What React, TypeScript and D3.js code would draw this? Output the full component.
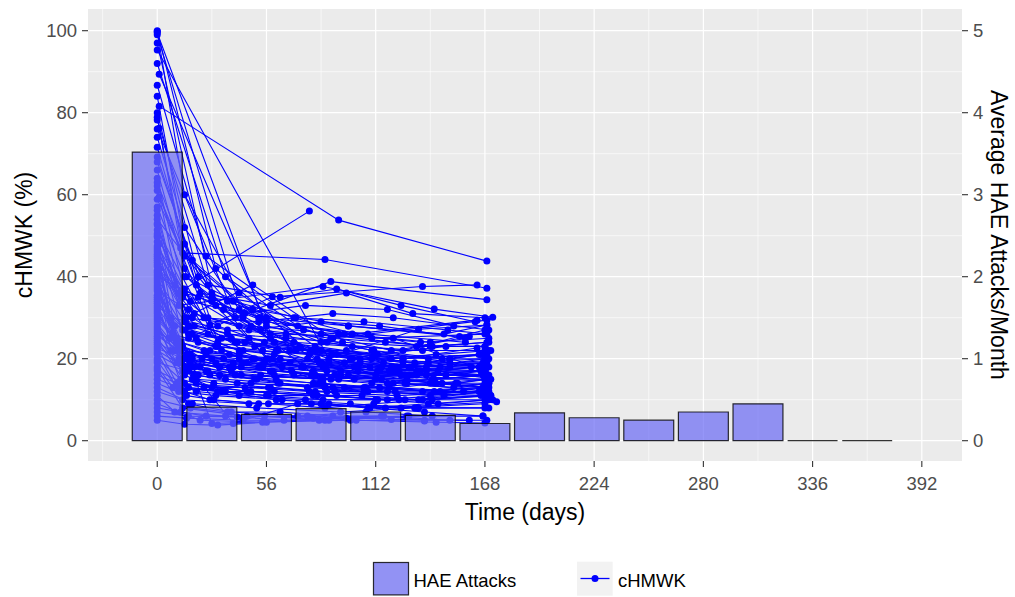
import React from "react";
import * as d3 from "d3";

const barDays = [0, 28, 56, 84, 112, 140, 168, 196, 224, 252, 280, 308, 336, 364];
const barValues = [3.52, 0.41, 0.32, 0.39, 0.35, 0.31, 0.21, 0.34, 0.28, 0.25, 0.35, 0.45, 0, 0];

const xTicks = [0, 56, 112, 168, 224, 280, 336, 392];
const xMinor = [-28, 28, 84, 140, 196, 252, 308, 364];
const yTicks = [0, 20, 40, 60, 80, 100];
const yMinor = [10, 30, 50, 70, 90];
const y2Ticks = [0, 1, 2, 3, 4, 5];

// cHMWK (%) per patient: [day, value]
const patients: [number, number][][] = [
  [[0, 100], [30, 42], [86, 18], [140, 14], [169, 13]],
  [[0, 99.5], [58, 25], [112, 16], [168, 15]],
  [[0, 99], [44, 30], [91, 12], [171, 11]],
  [[0, 95.3], [88, 20], [133, 17], [168, 19]],
  [[1, 89.4], [62, 22], [118, 14], [168, 16]],
  [[0, 50], [14, 37], [78, 56]],
  [[1, 81.6], [93, 53.8], [169, 43.8]],
  [[0, 78.9], [15, 40], [57, 20], [113, 17], [168, 21.3]],
  [[0, 78.2], [28, 35], [84, 19], [141, 15], [170, 16]],
  [[1, 76.2], [14, 45], [56, 28], [110, 22], [165, 18]],
  [[0, 71.6], [20, 38], [60, 24], [100, 20], [160, 25.4]],
  [[0, 69.2], [31, 24], [85, 14], [142, 12], [170, 12]],
  [[0, 62.1], [14, 30], [49, 38], [90, 25], [169, 29.4]],
  [[1, 59.5], [27, 28.2], [59, 35.1], [136, 37.6], [164, 38]],
  [[0, 58.9], [13, 45.8], [86, 44.2], [169, 37.2]],
  [[0, 56.2], [16, 25], [45, 31.1], [89, 38.8], [169, 34.4]],
  [[0, 52.6], [11, 33], [85, 37.6], [142, 32.1], [172, 30.1]],
  [[0, 51.4], [33, 22], [74, 18], [134, 27.2], [169, 28.2]],
  [[0, 49.7], [12, 20], [63, 14], [108, 12], [168, 11.6]],
  [[1, 48], [17, 18], [28, 4.2], [83, 5]],
  [[0, 47], [9, 22], [39, 4.2], [72, 9], [117, 8], [174, 9.5]],
  [[0, 46], [26, 26], [61, 22], [104, 20], [150, 19], [169, 19.5]],
  [[0, 45], [19, 28], [47, 25], [81, 23], [126, 20], [164, 22.6]],
  [[0, 44], [7, 30], [36, 27], [66, 26], [121, 25], [168, 17.2]],
  [[0, 43], [10, 24], [23, 20], [52, 18], [79, 16], [115, 15], [146, 14], [168, 13.6]],
  [[1, 42], [18, 30], [44, 22], [92, 21], [130, 18], [170, 15.2]],
  [[0, 41], [14, 16], [33, 12], [61, 10], [88, 9], [109, 8], [137, 7], [167, 6]],
  [[0, 40], [21, 35], [53, 30], [98, 28], [155, 25.4]],
  [[0, 39], [8, 26], [42, 21], [69, 17], [101, 15], [128, 14], [169, 12]],
  [[0, 38], [15, 20], [37, 18], [60, 16], [93, 15], [122, 17], [166, 18]],
  [[0, 37], [12, 19], [25, 17], [50, 15], [77, 13], [106, 12], [143, 14], [170, 13]],
  [[1, 36], [16, 32], [31, 28], [55, 24], [90, 21], [120, 20], [165, 21]],
  [[0, 35], [20, 14], [46, 12], [82, 11], [124, 10], [168, 10]],
  [[0, 34], [6, 25], [24, 22], [49, 20], [75, 18], [103, 17], [133, 16], [161, 18]],
  [[0, 33], [13, 27], [41, 24], [71, 22], [97, 22], [139, 20], [170, 20]],
  [[0, 32], [18, 15], [29, 14], [58, 13], [87, 12], [114, 13], [145, 12], [168, 14]],
  [[0, 31], [11, 23], [39, 19], [80, 17], [129, 16], [169, 16]],
  [[0, 30], [16, 21], [34, 20], [64, 18], [94, 17], [125, 16], [166, 17]],
  [[0, 29], [14, 12], [27, 10], [57, 9], [86, 8], [111, 9], [141, 10], [171, 11]],
  [[0, 28], [9, 22], [30, 19], [54, 18], [82, 20], [116, 19], [138, 18], [168, 20]],
  [[0, 27], [22, 18], [43, 16], [85, 15], [127, 14], [170, 14]],
  [[0, 26], [15, 20], [38, 17], [70, 16], [112, 15], [153, 14], [168, 15]],
  [[0, 25], [13, 17], [27, 16], [51, 15], [83, 14], [107, 13], [136, 12], [167, 13]],
  [[0, 24], [17, 19], [32, 18], [59, 17], [91, 16], [119, 17], [148, 16], [168, 17]],
  [[0, 23], [10, 14], [45, 13], [78, 12], [123, 11], [165, 12]],
  [[0, 22], [14, 18], [26, 17], [53, 16], [84, 15], [110, 14], [142, 15], [169, 16]],
  [[0, 21], [19, 16], [35, 15], [62, 14], [96, 13], [121, 14], [152, 13], [170, 14]],
  [[0, 20], [12, 15], [28, 13], [48, 12], [80, 11], [105, 11], [134, 10], [168, 12]],
  [[0, 19], [16, 17], [40, 16], [89, 15], [131, 16], [168, 17]],
  [[0, 18], [8, 13], [31, 12], [56, 11], [85, 10], [113, 10], [144, 9], [172, 10]],
  [[0, 17], [14, 14], [24, 13], [57, 13], [81, 12], [118, 12], [140, 11], [168, 13]],
  [[0, 16], [20, 12], [42, 11], [76, 10], [127, 10], [166, 11]],
  [[0, 15], [11, 13], [33, 12], [60, 12], [92, 11], [112, 10], [147, 11], [168, 12]],
  [[0, 14], [15, 11], [29, 10], [52, 9], [79, 9], [108, 8], [139, 9], [170, 10]],
  [[0, 12], [13, 10], [47, 9], [84, 9], [125, 8], [168, 9]],
  [[0, 10], [17, 8], [36, 7], [63, 7], [90, 6], [116, 6], [137, 5], [169, 5]],
  [[0, 8], [12, 7], [25, 6], [55, 6], [86, 5], [102, 5], [143, 4.5], [168, 4.3]],
  [[0, 6], [15, 5.5], [44, 5], [88, 5], [129, 6], [167, 6]],
  [[0, 5], [14, 4], [31, 3.8], [56, 4.5]],
  [[0, 55], [9, 38], [34, 32], [58, 26], [87, 24], [111, 22], [146, 20], [169, 21]],
  [[0, 53], [18, 26], [42, 22], [77, 20], [123, 18], [168, 18]],
  [[0, 50.5], [13, 35], [26, 30], [53, 27], [89, 25], [117, 24], [141, 23], [170, 24]],
  [[0, 48.5], [16, 28], [38, 25], [68, 22], [99, 20], [132, 19], [168, 19]],
  [[0, 46.5], [11, 20], [43, 18], [81, 16], [128, 15], [171, 15]],
  [[0, 44.5], [20, 25], [31, 23], [60, 21], [83, 19], [109, 18], [144, 17], [168, 16]],
  [[0, 42.5], [15, 30], [48, 28], [93, 26], [135, 24], [170, 25]],
  [[0, 40.5], [7, 22], [28, 20], [55, 19], [86, 18], [114, 17], [138, 16], [168, 16]],
  [[0, 38.5], [14, 27], [40, 24], [82, 22], [126, 20], [166, 21]],
  [[0, 36.5], [19, 18], [32, 16], [61, 15], [80, 14], [106, 13], [142, 14], [168, 15]],
  [[0, 34.5], [12, 24], [27, 22], [50, 20], [88, 19], [115, 18], [139, 19], [169, 18]],
  [[0, 32.5], [17, 21], [46, 19], [85, 18], [124, 17], [168, 17]],
  [[0, 30.5], [10, 25], [30, 23], [54, 22], [78, 21], [110, 20], [143, 21], [170, 22]],
  [[0, 28.5], [21, 16], [41, 14], [90, 13], [122, 12], [168, 13]],
  [[0, 26.5], [13, 23], [25, 21], [59, 20], [84, 19], [104, 19], [145, 18], [169, 19]],
  [[0, 24.5], [16, 13], [35, 12], [57, 11], [82, 11], [118, 10], [136, 10], [168, 11]],
  [[0, 22.5], [14, 20], [39, 18], [87, 17], [130, 16], [167, 16]],
  [[0, 99.8], [14, 60], [42, 36], [84, 22], [126, 19], [168, 20]],
  [[0, 97], [30, 33], [60, 24], [120, 18], [168, 17]],
  [[0, 84], [14, 48], [28, 36], [56, 30], [84, 26], [140, 23], [169, 24]],
  [[0, 80], [21, 40], [56, 20], [98, 16], [154, 14], [170, 15]],
  [[0, 74], [14, 52], [42, 32], [84, 24], [126, 22], [168, 27]],
  [[0, 66], [14, 42], [28, 34], [56, 29], [100, 26], [164, 29.4]],
  [[0, 64], [14, 36], [42, 28], [84, 22], [126, 20], [168, 21]],
  [[0, 57], [14, 40], [49, 32], [98, 28], [147, 26], [169, 28.2]],
  [[0, 63], [22, 36], [58, 33], [97, 36], [131, 31], [168, 30]],
  [[0, 54], [26, 38], [63, 35], [92, 37], [125, 33], [163, 29]],
  [[0, 47.5], [17, 34], [44, 31], [76, 33], [118, 32], [152, 28]],
  [[0, 45.5], [24, 30], [52, 29], [90, 31], [121, 30], [170, 27]],
  [[0, 43.5], [11, 36], [39, 34], [71, 30], [106, 29], [149, 27], [169, 26]],
  [[0, 41.5], [19, 31], [47, 27], [84, 29], [114, 28], [158, 25]],
  [[0, 39.5], [14, 29], [36, 26], [66, 25], [95, 24], [133, 23], [168, 23]],
  [[0, 37.5], [9, 28], [33, 25], [70, 24], [100, 23], [136, 22], [171, 22]],
  [[0, 35.5], [16, 26], [45, 24], [73, 23], [112, 21], [150, 20]],
  [[0, 33.5], [21, 24], [50, 23], [79, 22], [113, 21], [148, 23], [168, 23]],
  [[0, 31.5], [12, 22], [37, 21], [63, 20], [96, 19], [129, 18], [167, 19]],
  [[0, 29.5], [18, 20], [44, 19], [75, 18], [103, 18], [135, 17], [170, 18]],
  [[0, 27.5], [10, 19], [32, 18], [58, 17], [94, 16], [127, 16], [168, 16]],
  [[0, 25.5], [15, 21], [42, 20], [68, 19], [101, 18], [138, 17], [166, 17]],
  [[0, 23.5], [20, 15], [48, 14], [86, 13], [119, 13], [157, 12]],
  [[0, 21.5], [11, 12], [30, 11], [64, 10], [99, 9], [134, 8], [168, 8]],
  [[0, 19.5], [16, 9], [38, 7], [72, 6], [107, 7], [141, 6]],
  [[0, 17.5], [13, 8], [46, 6], [80, 5.5], [115, 6], [150, 5]],
  [[0, 13], [18, 9], [51, 8], [94, 7], [132, 8], [170, 8]],
  [[0, 11], [9, 7], [35, 6], [65, 5], [97, 5.5], [128, 6]],
  [[0, 9], [22, 5], [54, 4.5], [99, 5], [137, 4.8]],
  [[0, 7], [16, 6], [41, 5.8], [77, 6], [120, 5.2], [160, 5]],
  [[0, 92], [35, 40], [75, 27], [120, 22], [168, 22]],
  [[0, 86.7], [25, 45], [70, 30], [110, 25], [168, 26]],
  [[0, 76], [40, 30], [80, 22], [150, 18]],
  [[0, 68], [18, 44], [52, 30], [96, 26], [140, 24]],
  [[0, 61], [12, 47], [36, 34], [72, 28], [108, 26], [158, 24]],
];

const FONT = "'Liberation Sans', Arial, sans-serif";

export default function App() {
  const x = d3.scaleLinear().domain([-35.5, 412.6]).range([88, 962]);
  const y = d3.scaleLinear().domain([0, 100]).range([440.7, 30.7]);
  const y2 = d3.scaleLinear().domain([0, 5]).range([440.7, 30.7]);
  const line = d3
    .line<[number, number]>()
    .x((d) => x(d[0]))
    .y((d) => y(d[1]));
  const barW = x(25.6) - x(0);
  const pL = 88, pR = 962, pT = 9, pB = 461;

  return (
    <svg width={1015} height={597} style={{ display: "block", position: "absolute", left: 0, top: 0 }} fontFamily={FONT}>
      <rect x={0} y={0} width={1015} height={597} fill="#fff" />
      <rect x={pL} y={pT} width={pR - pL} height={pB - pT} fill="#EBEBEB" />
      {yMinor.map((v) => (
        <line key={"ym" + v} x1={pL} x2={pR} y1={y(v)} y2={y(v)} stroke="#fff" strokeWidth={0.6} />
      ))}
      {xMinor.map((v) => (
        <line key={"xm" + v} x1={x(v)} x2={x(v)} y1={pT} y2={pB} stroke="#fff" strokeWidth={0.6} />
      ))}
      {yTicks.map((v) => (
        <line key={"yg" + v} x1={pL} x2={pR} y1={y(v)} y2={y(v)} stroke="#fff" strokeWidth={1.2} />
      ))}
      {xTicks.map((v) => (
        <line key={"xg" + v} x1={x(v)} x2={x(v)} y1={pT} y2={pB} stroke="#fff" strokeWidth={1.2} />
      ))}
      <g>
        {patients.map((p, i) => (
          <path key={"l" + i} d={line(p) || ""} fill="none" stroke="#0000FF" strokeWidth={1.1} />
        ))}
        {patients.map((p, i) =>
          p.map((d, j) => <circle key={"c" + i + "-" + j} cx={x(d[0])} cy={y(d[1])} r={3.5} fill="#0000FF" />)
        )}
      </g>
      <g>
        {barDays.map((d, i) => {
          const x0 = x(d) - barW / 2;
          const yt = y2(barValues[i]);
          const yb = y2(0);
          return (
            <path
              key={"b" + i}
              d={`M${x0},${yb}L${x0},${yt}L${x0 + barW},${yt}L${x0 + barW},${yb}Z`}
              fill="rgb(105,105,245)"
              fillOpacity={0.7}
              stroke="rgba(0,0,0,0.8)"
              strokeWidth={1.2}
            />
          );
        })}
      </g>
      {/* left axis */}
      {yTicks.map((v) => (
        <g key={"yt" + v}>
          <line x1={82} x2={88} y1={y(v)} y2={y(v)} stroke="#333" strokeWidth={1.1} />
          <text x={77} y={y(v) + 6.6} textAnchor="end" fontSize={18.5} fill="#4D4D4D">
            {v}
          </text>
        </g>
      ))}
      {/* right axis */}
      {y2Ticks.map((v) => (
        <g key={"y2t" + v}>
          <line x1={962} x2={968} y1={y2(v)} y2={y2(v)} stroke="#333" strokeWidth={1.1} />
          <text x={973} y={y2(v) + 6.6} textAnchor="start" fontSize={18.5} fill="#4D4D4D">
            {v}
          </text>
        </g>
      ))}
      {/* x axis */}
      {xTicks.map((v) => (
        <g key={"xt" + v}>
          <line x1={x(v)} x2={x(v)} y1={461} y2={467} stroke="#333" strokeWidth={1.1} />
          <text x={x(v)} y={489.5} textAnchor="middle" fontSize={18.5} fill="#4D4D4D">
            {v}
          </text>
        </g>
      ))}
      <text x={525} y={519.5} textAnchor="middle" fontSize={23} fill="#000">
        Time (days)
      </text>
      <text transform={`translate(31.7,235) rotate(-90)`} textAnchor="middle" fontSize={23} fill="#000">
        cHMWK (%)
      </text>
      <text transform={`translate(990.5,235) rotate(90)`} textAnchor="middle" fontSize={23} fill="#000">
        Average HAE Attacks/Month
      </text>
      {/* legend */}
      <g>
        <rect x={372.7} y={561.7} width={36.6} height={34} fill="#F2F2F2" />
        <rect x={373.5} y={562.5} width={35} height={32.4} fill="rgb(105,105,245)" fillOpacity={0.7} stroke="rgba(0,0,0,0.8)" strokeWidth={1.2} />
        <text x={413.5} y={587.3} fontSize={18.5} fill="#000">
          HAE Attacks
        </text>
        <rect x={577} y={561.7} width={35.7} height={34} fill="#F2F2F2" />
        <line x1={580.5} x2={609.5} y1={578.5} y2={578.5} stroke="#0000FF" strokeWidth={1.3} />
        <circle cx={595} cy={578.5} r={3.5} fill="#0000FF" />
        <text x={618} y={587.3} fontSize={18.5} fill="#000">
          cHMWK
        </text>
      </g>
    </svg>
  );
}
